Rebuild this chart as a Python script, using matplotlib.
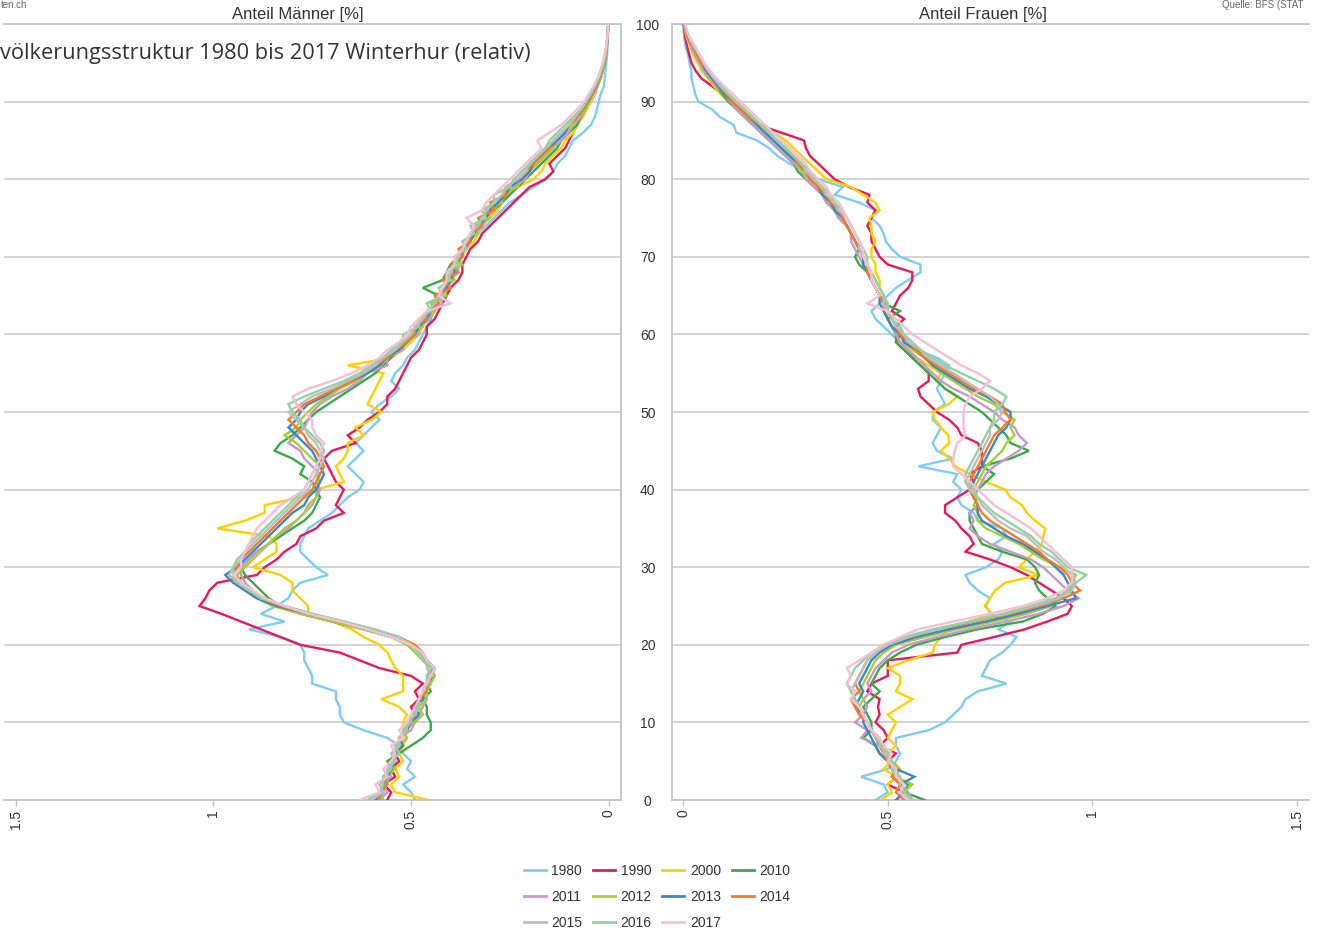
import matplotlib
matplotlib.use("Agg")
import matplotlib.pyplot as plt
from matplotlib.lines import Line2D

plt.rcParams['font.family'] = ['Liberation Sans', 'DejaVu Sans']

ages = list(range(101))
years = ['1980', '1990', '2000', '2010', '2011', '2012', '2013', '2014', '2015', '2016', '2017']
colors = ['#7ccdf3', '#e8185a', '#ffd000', '#3aaa48', '#c898c8', '#a6cd3a',
          '#3a87c9', '#f47a2a', '#bdbdbd', '#93d3a3', '#f8bdd7']

# ---------------- Men (share in %) by age 0..100 ----------------
men_1980 = [.49,.50,.52,.49,.51,.50,.52,.53,.56,.62,
            .67,.68,.68,.69,.69,.75,.75,.76,.77,.77,
            .78,.83,.91,.82,.88,.84,.81,.80,.78,.71,
            .74,.76,.78,.78,.77,.76,.73,.70,.68,.66,
            .63,.62,.64,.66,.64,.62,.64,.62,.60,.58,
            .60,.58,.55,.53,.55,.54,.52,.51,.49,.48,
            .47,.46,.45,.44,.42,.41,.40,.40,.38,.38,
            .37,.36,.34,.33,.31,.29,.27,.25,.22,.19,
            .16,.14,.13,.11,.10,.09,.065,.045,.035,.03,
            .025,.02,.012,.01,.008,.006,.004,.003,.002,.001,.0]
men_1990 = [.56,.55,.57,.54,.55,.53,.54,.52,.53,.51,
            .50,.49,.50,.48,.49,.47,.50,.58,.63,.68,
            .78,.83,.88,.93,.98,1.035,1.02,1.01,.99,.89,
            .87,.84,.82,.79,.78,.74,.72,.67,.69,.68,
            .67,.69,.70,.71,.72,.70,.64,.66,.63,.61,
            .58,.56,.56,.54,.53,.52,.51,.50,.48,.47,
            .46,.46,.44,.43,.42,.41,.40,.38,.37,.37,
            .36,.35,.33,.32,.30,.28,.26,.24,.22,.20,
            .16,.14,.15,.13,.11,.10,.09,.08,.07,.06,
            .045,.035,.028,.02,.015,.01,.007,.005,.003,.002,.001]
men_2000 = [.455,.54,.55,.53,.54,.52,.53,.52,.51,.52,
            .52,.51,.53,.575,.52,.52,.52,.54,.55,.56,
            .58,.62,.65,.70,.76,.76,.78,.80,.80,.83,
            .90,.87,.84,.84,.86,.99,.92,.87,.87,.78,
            .74,.67,.68,.69,.67,.66,.66,.62,.64,.60,
            .575,.61,.60,.59,.58,.57,.66,.55,.52,.50,
            .48,.47,.46,.44,.43,.42,.41,.40,.39,.38,
            .37,.36,.34,.33,.32,.30,.28,.27,.25,.23,
            .19,.17,.16,.14,.12,.11,.09,.08,.065,.055,
            .045,.036,.028,.02,.015,.01,.007,.005,.003,.002,.001]
men_2010 = [.57,.58,.56,.57,.55,.56,.53,.50,.47,.45,
            .45,.46,.46,.47,.45,.46,.44,.45,.47,.48,
            .50,.55,.62,.70,.78,.83,.86,.88,.90,.92,
            .93,.91,.89,.86,.83,.80,.77,.75,.74,.73,
            .74,.75,.78,.77,.80,.845,.83,.80,.78,.76,
            .74,.71,.68,.65,.62,.59,.57,.55,.53,.51,
            .49,.48,.46,.45,.44,.43,.47,.42,.41,.40,
            .38,.37,.35,.34,.32,.31,.29,.27,.25,.23,
            .21,.19,.17,.15,.13,.12,.10,.08,.07,.06,
            .05,.04,.03,.022,.016,.011,.007,.005,.003,.002,.001]
men_2011 = [.58,.56,.57,.55,.56,.54,.55,.52,.53,.50,
            .49,.48,.47,.46,.47,.45,.46,.44,.46,.48,
            .50,.54,.61,.69,.77,.84,.88,.90,.92,.93,
            .93,.91,.89,.86,.84,.81,.79,.77,.75,.74,
            .73,.74,.73,.75,.77,.78,.81,.79,.77,.76,
            .75,.73,.70,.66,.63,.61,.56,.56,.52,.52,
            .48,.48,.45,.45,.42,.43,.40,.41,.39,.39,
            .38,.36,.35,.34,.32,.31,.29,.28,.26,.24,
            .21,.20,.18,.16,.14,.12,.10,.09,.07,.06,
            .05,.04,.031,.023,.017,.012,.008,.005,.003,.002,.001]
men_2012 = [.57,.58,.56,.56,.54,.55,.53,.53,.51,.52,
            .49,.47,.48,.46,.46,.45,.44,.45,.47,.49,
            .51,.55,.62,.70,.78,.85,.89,.92,.93,.94,
            .92,.90,.88,.86,.84,.82,.79,.77,.76,.74,
            .74,.73,.74,.73,.75,.77,.79,.82,.79,.78,
            .76,.74,.71,.68,.64,.61,.58,.56,.53,.51,
            .50,.47,.47,.44,.45,.41,.42,.39,.40,.37,
            .39,.36,.36,.33,.34,.30,.31,.27,.27,.23,
            .22,.20,.18,.16,.14,.13,.11,.09,.08,.06,
            .05,.042,.032,.024,.017,.012,.008,.005,.003,.002,.001]
men_2013 = [.59,.57,.57,.56,.55,.54,.54,.52,.53,.51,
            .50,.48,.49,.47,.47,.46,.45,.44,.46,.48,
            .50,.53,.60,.68,.76,.84,.89,.92,.95,.97,
            .94,.92,.90,.88,.86,.84,.82,.80,.77,.76,
            .74,.73,.72,.73,.74,.75,.77,.79,.81,.79,
            .78,.76,.72,.69,.65,.61,.58,.56,.53,.51,
            .49,.48,.46,.45,.44,.43,.41,.40,.39,.39,
            .37,.37,.35,.34,.33,.31,.30,.28,.26,.25,
            .22,.20,.19,.17,.15,.13,.11,.10,.08,.065,
            .052,.042,.033,.025,.018,.013,.009,.006,.003,.002,.001]
men_2014 = [.58,.58,.56,.57,.55,.55,.53,.54,.52,.52,
            .50,.49,.48,.48,.46,.46,.45,.45,.46,.47,
            .49,.53,.60,.68,.76,.83,.88,.91,.94,.95,
            .94,.93,.91,.89,.87,.85,.83,.81,.79,.77,
            .75,.74,.73,.72,.73,.74,.76,.77,.79,.81,
            .79,.77,.73,.69,.65,.62,.59,.56,.54,.51,
            .49,.49,.46,.46,.43,.44,.40,.42,.38,.40,
            .37,.38,.35,.35,.32,.33,.29,.30,.26,.26,
            .23,.21,.19,.17,.15,.14,.12,.10,.08,.066,
            .054,.043,.034,.025,.018,.013,.009,.006,.003,.002,.001]
men_2015 = [.60,.57,.58,.56,.56,.54,.55,.53,.53,.51,
            .51,.49,.48,.48,.47,.46,.45,.46,.46,.48,
            .50,.53,.59,.67,.75,.82,.87,.91,.93,.95,
            .95,.93,.92,.90,.88,.86,.84,.82,.80,.78,
            .76,.75,.74,.73,.72,.73,.74,.76,.77,.79,
            .81,.78,.75,.70,.66,.62,.59,.57,.54,.52,
            .50,.49,.47,.46,.44,.43,.42,.41,.40,.39,
            .38,.37,.36,.35,.33,.32,.31,.29,.27,.26,
            .23,.21,.20,.18,.16,.14,.12,.10,.085,.07,
            .056,.045,.035,.026,.019,.013,.009,.006,.004,.002,.001]
men_2016 = [.61,.58,.57,.57,.55,.55,.53,.54,.52,.52,
            .50,.50,.48,.48,.47,.46,.46,.45,.47,.48,
            .50,.54,.60,.67,.75,.82,.88,.91,.94,.96,
            .95,.94,.92,.91,.89,.87,.85,.83,.81,.79,
            .77,.76,.75,.74,.73,.72,.73,.75,.77,.78,
            .80,.81,.77,.72,.67,.63,.60,.57,.55,.52,
            .52,.48,.48,.45,.46,.42,.43,.40,.41,.38,
            .39,.36,.37,.34,.35,.31,.32,.29,.29,.25,
            .24,.22,.20,.18,.16,.15,.13,.11,.09,.07,
            .058,.046,.036,.027,.02,.014,.01,.006,.004,.002,.001]
men_2017 = [.63,.58,.59,.56,.57,.55,.54,.55,.52,.53,
            .51,.50,.49,.48,.47,.46,.45,.44,.46,.47,
            .50,.55,.61,.68,.76,.82,.87,.90,.93,.95,
            .93,.93,.92,.91,.90,.89,.87,.85,.83,.80,
            .77,.76,.75,.74,.73,.73,.72,.74,.75,.75,
            .77,.79,.80,.76,.70,.65,.61,.58,.56,.53,
            .51,.50,.48,.46,.40,.43,.42,.41,.41,.39,
            .39,.37,.36,.35,.34,.36,.32,.31,.29,.27,
            .25,.23,.21,.19,.17,.18,.15,.12,.10,.08,
            .062,.05,.038,.028,.021,.015,.01,.007,.004,.002,.001]

# ---------------- Women (share in %) by age 0..100 ----------------
women_1980 = [.47,.50,.49,.435,.50,.52,.53,.52,.52,.60,
              .64,.66,.68,.69,.72,.79,.73,.74,.75,.78,
              .80,.815,.77,.80,.75,.74,.75,.72,.70,.69,
              .74,.77,.78,.76,.79,.78,.72,.71,.68,.67,
              .68,.66,.67,.575,.66,.62,.61,.62,.63,.61,
              .61,.64,.63,.62,.63,.64,.65,.62,.57,.53,
              .51,.49,.47,.46,.48,.50,.52,.55,.58,.58,
              .53,.51,.495,.49,.48,.46,.47,.43,.37,.39,
              .33,.30,.26,.23,.21,.18,.13,.123,.09,.07,
              .037,.029,.025,.02,.02,.015,.012,.006,.003,.001,.0]
women_1990 = [.52,.54,.50,.52,.51,.50,.52,.48,.50,.49,
              .47,.48,.476,.48,.45,.46,.50,.50,.50,.67,
              .68,.76,.835,.89,.94,.95,.93,.90,.87,.84,
              .80,.75,.69,.71,.70,.68,.665,.64,.64,.67,
              .70,.71,.70,.73,.73,.73,.72,.68,.67,.65,
              .62,.60,.58,.574,.60,.60,.58,.56,.54,.52,
              .53,.52,.54,.51,.52,.53,.55,.56,.56,.50,
              .48,.47,.46,.46,.45,.46,.47,.45,.455,.405,
              .37,.35,.33,.31,.30,.295,.24,.184,.16,.14,
              .118,.095,.07,.044,.03,.02,.015,.01,.006,.003,.001]
women_2000 = [.484,.51,.50,.52,.49,.51,.50,.52,.50,.51,
              .52,.50,.53,.56,.52,.53,.53,.50,.55,.61,
              .615,.63,.648,.70,.755,.737,.75,.762,.787,.869,
              .82,.84,.86,.877,.88,.885,.86,.84,.828,.80,
              .787,.74,.70,.665,.65,.63,.65,.648,.63,.615,
              .61,.648,.67,.64,.62,.63,.60,.57,.55,.53,
              .52,.51,.50,.50,.49,.49,.48,.48,.47,.47,
              .46,.46,.47,.46,.46,.455,.48,.47,.44,.41,
              .35,.33,.31,.29,.27,.25,.22,.19,.16,.14,
              .11,.09,.075,.06,.045,.035,.025,.018,.01,.005,.002]
women_2010 = [.59,.54,.55,.51,.52,.50,.48,.47,.44,.46,
              .46,.45,.44,.46,.48,.46,.47,.48,.50,.53,
              .57,.64,.72,.83,.88,.91,.89,.87,.86,.87,
              .86,.84,.78,.73,.72,.71,.70,.70,.72,.71,
              .72,.74,.76,.73,.80,.845,.80,.79,.77,.75,
              .73,.70,.67,.64,.62,.60,.58,.56,.54,.52,
              .52,.51,.50,.53,.49,.48,.47,.46,.45,.43,
              .42,.43,.42,.41,.40,.38,.37,.35,.34,.32,
              .30,.28,.27,.25,.23,.21,.19,.17,.15,.13,
              .11,.095,.08,.065,.05,.04,.03,.02,.013,.007,.003]
women_2011 = [.56,.55,.53,.53,.51,.51,.49,.48,.435,.45,
              .42,.44,.45,.44,.46,.45,.46,.47,.49,.51,
              .55,.62,.70,.79,.87,.93,.967,.94,.92,.90,
              .88,.85,.80,.75,.72,.70,.71,.70,.72,.71,
              .72,.73,.74,.76,.79,.82,.84,.82,.81,.78,
              .76,.73,.70,.66,.63,.61,.59,.57,.55,.53,
              .52,.51,.50,.49,.50,.48,.47,.46,.45,.44,
              .43,.42,.41,.41,.40,.38,.37,.35,.34,.32,
              .30,.29,.27,.25,.23,.21,.19,.17,.15,.13,
              .115,.10,.08,.065,.05,.04,.03,.02,.013,.007,.003]
women_2012 = [.55,.54,.56,.52,.53,.51,.50,.49,.47,.46,
              .45,.44,.43,.44,.43,.44,.45,.46,.47,.49,
              .52,.59,.67,.76,.84,.90,.92,.94,.95,.96,
              .92,.88,.85,.82,.78,.74,.72,.72,.71,.72,
              .71,.72,.73,.74,.76,.78,.79,.81,.80,.81,
              .78,.76,.72,.69,.66,.63,.61,.59,.56,.54,
              .53,.51,.50,.49,.49,.48,.47,.46,.45,.44,
              .44,.43,.42,.41,.40,.39,.37,.36,.34,.33,
              .31,.29,.28,.26,.24,.22,.20,.18,.16,.14,
              .12,.10,.085,.07,.055,.045,.035,.025,.015,.008,.003]
women_2013 = [.52,.54,.53,.565,.52,.50,.48,.47,.46,.45,
              .44,.44,.42,.43,.44,.43,.44,.45,.46,.48,
              .51,.57,.65,.74,.82,.89,.96,.95,.94,.93,
              .91,.89,.86,.83,.79,.76,.73,.72,.72,.71,
              .70,.71,.72,.73,.74,.75,.76,.77,.79,.80,
              .80,.77,.74,.70,.67,.64,.61,.59,.57,.54,
              .53,.51,.50,.49,.48,.48,.47,.46,.45,.44,
              .44,.43,.42,.41,.40,.39,.37,.36,.34,.33,
              .31,.30,.28,.26,.24,.22,.20,.18,.16,.14,
              .12,.10,.085,.07,.055,.045,.035,.025,.015,.008,.003]
women_2014 = [.54,.52,.53,.51,.52,.50,.49,.48,.47,.46,
              .45,.43,.42,.41,.43,.42,.43,.44,.45,.47,
              .50,.55,.62,.71,.80,.87,.93,.97,.95,.94,
              .92,.89,.87,.84,.81,.78,.75,.73,.72,.71,
              .70,.70,.71,.72,.73,.74,.75,.76,.78,.80,
              .787,.78,.75,.71,.68,.65,.62,.59,.57,.55,
              .53,.52,.51,.50,.49,.48,.47,.46,.45,.45,
              .44,.43,.42,.41,.40,.39,.38,.36,.35,.33,
              .31,.30,.28,.27,.25,.23,.21,.19,.16,.14,
              .12,.105,.09,.075,.06,.045,.035,.025,.015,.008,.003]
women_2015 = [.55,.53,.54,.52,.51,.51,.49,.49,.47,.46,
              .45,.44,.43,.42,.41,.42,.43,.44,.45,.47,
              .50,.55,.62,.70,.79,.86,.92,.95,.96,.95,
              .93,.91,.88,.86,.84,.80,.77,.75,.73,.72,
              .70,.69,.70,.71,.72,.73,.74,.75,.75,.77,
              .78,.77,.75,.72,.69,.66,.63,.60,.58,.55,
              .54,.52,.51,.50,.49,.49,.48,.47,.46,.45,
              .44,.43,.43,.42,.41,.40,.38,.37,.35,.34,
              .32,.30,.29,.27,.25,.23,.21,.19,.17,.15,
              .13,.11,.09,.075,.06,.05,.04,.028,.017,.009,.004]
women_2016 = [.56,.54,.53,.53,.51,.51,.50,.48,.48,.46,
              .45,.44,.43,.42,.41,.40,.41,.42,.44,.46,
              .49,.54,.61,.70,.78,.85,.91,.94,.96,.985,
              .94,.92,.90,.87,.85,.82,.79,.76,.74,.72,
              .71,.69,.69,.70,.71,.72,.73,.74,.75,.76,
              .76,.78,.79,.76,.72,.68,.64,.61,.58,.56,
              .54,.53,.51,.50,.50,.49,.48,.47,.46,.45,
              .45,.44,.43,.42,.41,.40,.39,.37,.36,.34,
              .32,.31,.29,.27,.25,.23,.21,.19,.17,.15,
              .13,.11,.095,.08,.065,.05,.04,.028,.017,.009,.004]
women_2017 = [.55,.53,.54,.52,.52,.50,.51,.49,.48,.46,
              .45,.44,.43,.41,.42,.40,.41,.40,.43,.46,
              .49,.53,.574,.66,.75,.83,.89,.93,.95,.95,
              .95,.93,.91,.89,.87,.85,.82,.79,.76,.74,
              .72,.70,.68,.66,.66,.664,.67,.69,.685,.685,
              .685,.69,.70,.73,.75,.72,.68,.65,.62,.59,
              .56,.54,.52,.50,.45,.48,.47,.46,.46,.45,
              .44,.44,.43,.42,.41,.40,.39,.38,.36,.35,
              .33,.31,.30,.28,.26,.24,.22,.20,.18,.16,
              .14,.12,.10,.08,.065,.05,.04,.03,.018,.01,.004]

men = [men_1980, men_1990, men_2000, men_2010, men_2011, men_2012,
       men_2013, men_2014, men_2015, men_2016, men_2017]
women = [women_1980, women_1990, women_2000, women_2010, women_2011, women_2012,
         women_2013, women_2014, women_2015, women_2016, women_2017]
for s in men + women:
    assert len(s) == len(ages)

W, H = 1317, 933
fig = plt.figure(figsize=(W / 100, H / 100), dpi=100)
bottom = 1 - 800 / H
height = 776 / H
axL = fig.add_axes([4.2 / W, bottom, (621.3 - 4.2) / W, height])
axR = fig.add_axes([671.8 / W, bottom, (1308.7 - 671.8) / W, height])

grey = '#c4c4c4'
lw = 1.7
for yr, c, m, w in zip(years, colors, men, women):
    axL.plot(m, ages, color=c, lw=lw, solid_joinstyle='miter', zorder=3)
    axR.plot(w, ages, color=c, lw=lw, solid_joinstyle='miter', zorder=3)

axL.set_xlim(1.529, -0.032)
axR.set_xlim(-0.028, 1.529)
for ax in (axL, axR):
    ax.set_ylim(0, 100)
    ax.set_yticks(range(0, 101, 10))
    ax.grid(axis='y', color='#cccccc', lw=1.2)
    ax.set_axisbelow(True)
    ax.set_xticks([0, 0.5, 1, 1.5])
    ax.set_xticklabels(['0', '0.5', '1', '1.5'], rotation=90)
    ax.tick_params(axis='x', length=4, width=1, color=grey, pad=3,
                   labelsize=10, labelcolor='#333333')
    for sp in ax.spines.values():
        sp.set_color(grey)
        sp.set_linewidth(1.3)
    ax.patch.set_alpha(0)

axL.spines['left'].set_visible(False)
axR.spines['right'].set_visible(False)
axL.tick_params(axis='y', left=False, labelleft=False)
axR.tick_params(axis='y', length=0, pad=17.3, labelsize=10, labelcolor='#333333')
for lab in axR.get_yticklabels():
    lab.set_horizontalalignment('center')

fig.text(298 / W, 1 - 14 / H, 'Anteil Männer [%]', ha='center', va='center',
         fontsize=12, color='#333333')
fig.text(983 / W, 1 - 14 / H, 'Anteil Frauen [%]', ha='center', va='center',
         fontsize=12, color='#333333')
fig.text(0 / W, 1 - 53 / H, 'völkerungsstruktur 1980 bis 2017 Winterhur (relativ)',
         ha='left', va='center', fontsize=15.7, color='#333333',
         family=['Open Sans', 'DejaVu Sans'])
fig.text(1 / W, 1 - 5 / H, 'ten.ch', ha='left', va='center', fontsize=7, color='#666666')
fig.text(1222 / W, 1 - 5 / H, 'Quelle: BFS (STAT', ha='left', va='center',
         fontsize=7, color='#666666')

# legend: row-major order in the reference, matplotlib fills column-major
order = [0, 4, 8, 1, 5, 9, 2, 6, 10, 3, 7]
handles = [Line2D([], [], color=colors[i], lw=2) for i in order]
labels = [years[i] for i in order]
fig.legend(handles, labels, ncol=4, loc='center',
           bbox_to_anchor=(657 / W, 1 - 897 / H), frameon=False,
           fontsize=10, handlelength=1.6, handletextpad=0.4,
           columnspacing=0.75, labelspacing=0.85, labelcolor='#333333')

fig.savefig('out.png', dpi=100)
